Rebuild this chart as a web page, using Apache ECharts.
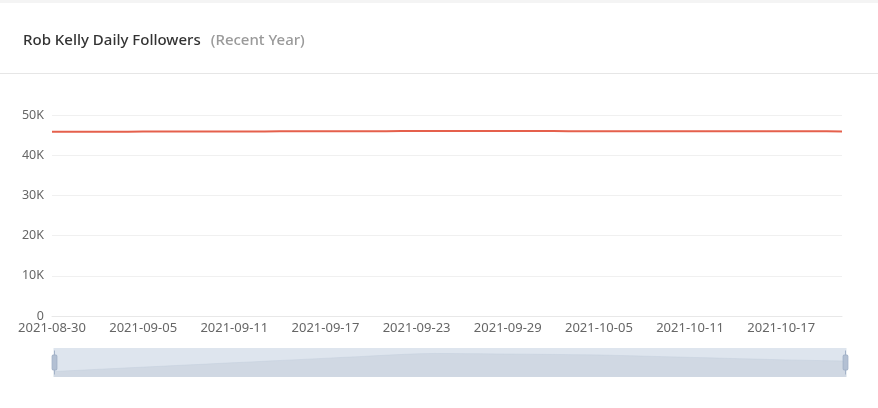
<!DOCTYPE html>
<html>
<head>
<meta charset="utf-8">
<script src="https://cdn.jsdelivr.net/npm/echarts@6/dist/echarts.min.js"></script>
<style>
html,body{margin:0;padding:0;background:#fff;}
#chart{width:878px;height:408px;}
</style>
</head>
<body>
<div id="chart"></div>
<script>
const titleMain = 'Rob Kelly Daily Followers';
const titleSub = '(Recent Year)';
const dates = [
  '2021-08-30','2021-08-31','2021-09-01','2021-09-02','2021-09-03','2021-09-04','2021-09-05',
  '2021-09-06','2021-09-07','2021-09-08','2021-09-09','2021-09-10','2021-09-11','2021-09-12',
  '2021-09-13','2021-09-14','2021-09-15','2021-09-16','2021-09-17','2021-09-18','2021-09-19',
  '2021-09-20','2021-09-21','2021-09-22','2021-09-23','2021-09-24','2021-09-25','2021-09-26',
  '2021-09-27','2021-09-28','2021-09-29','2021-09-30','2021-10-01','2021-10-02','2021-10-03',
  '2021-10-04','2021-10-05','2021-10-06','2021-10-07','2021-10-08','2021-10-09','2021-10-10',
  '2021-10-11','2021-10-12','2021-10-13','2021-10-14','2021-10-15','2021-10-16','2021-10-17',
  '2021-10-18','2021-10-19','2021-10-20','2021-10-21'
];
const followers = [
  45820,45828,45835,45843,45850,45858,45865,
  45872,45880,45887,45894,45902,45909,45916,
  45924,45931,45938,45946,45953,45961,45968,
  45976,45984,45991,45997,46000,45999,45998,
  45997,45995,45994,45993,45991,45990,45988,
  45986,45984,45980,45976,45972,45968,45964,
  45960,45956,45952,45948,45944,45940,45936,
  45933,45930,45927,45924
];
const yTicks = [0, 10000, 20000, 30000, 40000, 50000];

const chart = echarts.init(document.getElementById('chart'), null, {renderer: 'canvas'});
chart.setOption({
  animation: false,
  backgroundColor: '#fff',
  graphic: [
    {type: 'rect', left: 0, top: 0, shape: {width: 878, height: 3}, style: {fill: '#f4f4f4'}},
    {type: 'rect', left: 0, top: 73, shape: {width: 878, height: 1}, style: {fill: '#e6e6e6'}}
  ],
  title: {
    left: 18,
    top: 27,
    text: '{a|' + titleMain + '}  {b|' + titleSub + '}',
    textStyle: {
      rich: {
        a: {fontFamily: 'Noto Sans', fontSize: 15, color: '#333', fontWeight: 500},
        b: {fontFamily: 'Noto Sans', fontSize: 15, color: '#9a9a9a', fontWeight: 500}
      }
    }
  },
  grid: {left: 52, right: 36, top: 115, bottom: 92, containLabel: false},
  xAxis: {
    type: 'category',
    data: dates,
    boundaryGap: false,
    axisLine: {show: true, lineStyle: {color: '#e8e8e8'}},
    axisTick: {show: false},
    axisLabel: {color: '#666', fontFamily: 'Noto Sans', fontSize: 13, interval: 5, margin: 6},
    splitLine: {show: false}
  },
  yAxis: {
    type: 'value',
    min: 0,
    max: 50000,
    interval: 10000,
    axisLine: {show: false},
    axisTick: {show: false},
    axisLabel: {
      color: '#666', fontFamily: 'Noto Sans', fontSize: 12.5, margin: 8,
      formatter: function (v) { return yTicks.indexOf(v) >= 0 ? (v === 0 ? '0' : (v / 1000) + 'K') : ''; }
    },
    splitLine: {lineStyle: {color: '#f0f0f0'}}
  },
  dataZoom: [{
    type: 'slider',
    start: 0,
    end: 100,
    left: 51,
    right: 34,
    bottom: 31,
    height: 29,
    showDetail: false,
    brushSelect: false,
    moveHandleSize: 0,
    borderColor: 'transparent',
    backgroundColor: 'transparent',
    fillerColor: 'rgba(195,207,224,0.55)',
    dataBackground: {
      lineStyle: {color: '#c2cad6', width: 0.8, opacity: 0.6},
      areaStyle: {color: '#c6ccd4', opacity: 0.55}
    },
    selectedDataBackground: {
      lineStyle: {color: '#c2cad6', width: 0.8, opacity: 0.6},
      areaStyle: {color: '#c6ccd4', opacity: 0.55}
    },
    handleIcon: 'path://M-9.35,34.56V42m0-40V9.5m-2,0h4a2,2,0,0,1,2,2v21a2,2,0,0,1-2,2h-4a2,2,0,0,1-2-2v-21A2,2,0,0,1-11.35,9.5Z',
    handleSize: '82%',
    handleStyle: {color: '#b3c0d3', borderColor: '#a3b2c8'}
  }],
  series: [{
    type: 'line',
    data: followers,
    showSymbol: false,
    symbol: 'none',
    lineStyle: {color: '#e5604c', width: 2},
    itemStyle: {color: '#e5604c'}
  }]
});
</script>
</body>
</html>
